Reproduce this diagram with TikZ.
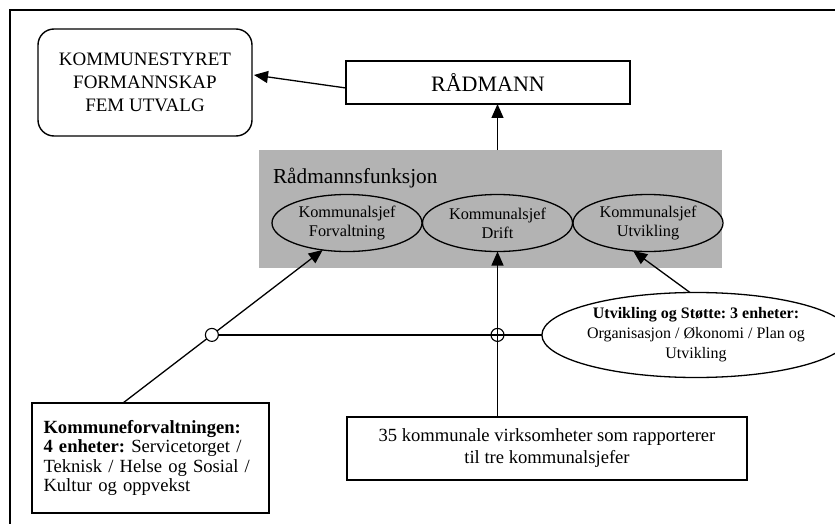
\documentclass[tikz,border=0pt]{standalone}
\usepackage{fontspec}
\setmainfont{Liberation Serif}
\usetikzlibrary{shapes.geometric,arrows.meta,calc}
\definecolor{panel}{RGB}{179,179,179}
\frenchspacing
\tikzset{
  every node/.style={inner sep=0pt, outer sep=0pt},
  frameline/.style={line width=1.8pt},
  box/.style={draw, line width=1.4pt, align=center},
  chief/.style={draw, ellipse, line width=1.3pt, minimum width=150pt, minimum height=57pt,
    align=center, font=\fontsize{16.3}{19}\selectfont},
  arr/.style={line width=1.3pt, -{Triangle[length=14pt,width=12pt]}},
  link/.style={line width=1.3pt},
  junction/.style={draw, circle, line width=1.1pt, minimum size=13pt},
}
\begin{document}
\begin{tikzpicture}[x=1pt,y=-1pt]
\useasboundingbox (0,0) rectangle (835,524);
% outer frame
\draw[frameline] (10,524) -- (10,10) -- (835,10);

% top level
\node[box, rounded corners=16pt, minimum width=214pt, minimum height=107pt,
  font=\fontsize{19}{23}\selectfont] (kst) at (145,82.5)
  {KOMMUNESTYRET\\FORMANNSKAP\\FEM UTVALG};
\node[box, minimum width=284pt, minimum height=43pt,
  font=\fontsize{22}{24}\selectfont] (rad) at (488,82.5) {RÅDMANN};

% Rådmannsfunksjon panel
\node[fill=panel, minimum width=463pt, minimum height=118pt] (panel) at (490.5,209) {};
\node[anchor=base west, font=\fontsize{21.3}{24}\selectfont] (ptitle) at (273,183) {Rådmannsfunksjon};
\node[chief] (f) at (347,223) {Kommunalsjef\\Forvaltning};
\node[chief] (d) at (497.5,223) {Kommunalsjef\\Drift};
\node[chief] (u) at (648,223) {Kommunalsjef\\Utvikling};

% lower units
\node[box, align=left, minimum width=237pt, minimum height=110pt, text width=214pt,
  font=\fontsize{18.6}{19.5}\selectfont] (kf) at (150.5,458)
  {\textbf{Kommuneforvaltningen:}\\\textbf{4 enheter:} Servicetorget /\\Teknisk / Helse og Sosial /\\Kultur og oppvekst};
\node[box, minimum width=400pt, minimum height=63pt,
  font=\fontsize{18.6}{22}\selectfont] (kv) at (547,448.5)
  {35 kommunale virksomheter som rapporterer\\til tre kommunalsjefer};
\node[draw, ellipse, line width=1.3pt, minimum width=276pt, minimum height=85pt, align=center,
  font=\fontsize{16}{20}\selectfont] (us) at (696,335)
  {\textbf{Utvikling og Støtte: 3 enheter:}\\Organisasjon / Økonomi / Plan og\\Utvikling};

% reporting lines
\draw[arr] ($(rad.west)+(0,5.5)$) -- ($(kst.east)+(2,-7.5)$);
\draw[arr] (panel.north -| d.south) -- (rad.south -| d.south);

\coordinate (kfTop) at ($(kf.north)+(-27.5,0)$);
\draw[arr] (kfTop) -- (f.-132);
\node[junction, fill=white] (j1) at ($(kfTop)!0.445!(f.-132)$) {};
\draw[link] (j1.east) -- (j1.east -| us.west);

\draw[arr] (d.south |- kv.north) -- (d.south);
\node[junction] (j2) at (d.south |- j1) {};

\draw[arr] (us.98) -- (u.-118);
\end{tikzpicture}
\end{document}
